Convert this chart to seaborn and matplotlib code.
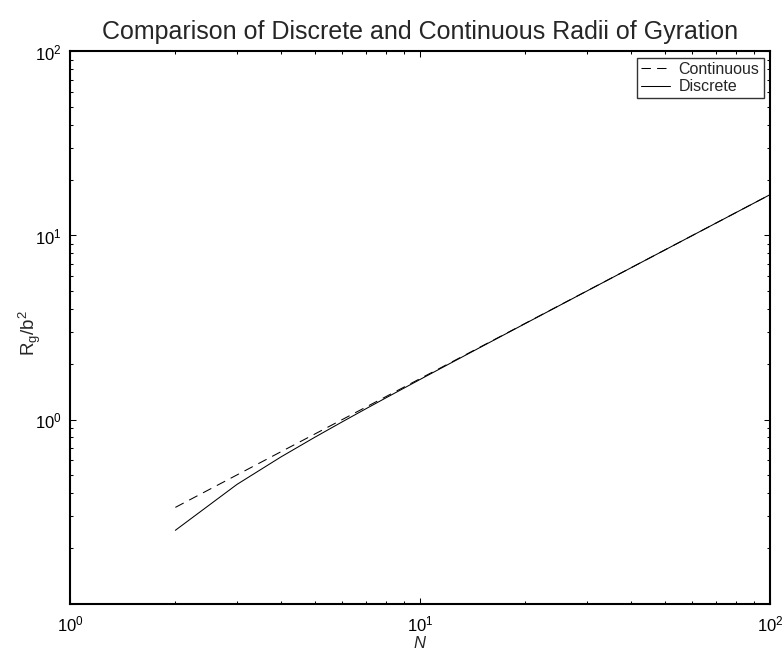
import matplotlib
matplotlib.use("Agg")
import matplotlib.pyplot as plt
import seaborn as sns
import pandas as pd

# chain length N and radius of gyration (in units of b^2)
n_values = [2, 3, 4, 5, 6, 7, 8, 9, 10, 12, 15, 20, 30, 50, 70, 100]
continuous = [0.333, 0.5, 0.667, 0.833, 1.0, 1.167, 1.333, 1.5, 1.667,
              2.0, 2.5, 3.333, 5.0, 8.333, 11.667, 16.667]
discrete = [0.25, 0.444, 0.625, 0.8, 0.972, 1.143, 1.3125, 1.481, 1.65,
            1.986, 2.489, 3.325, 4.994, 8.33, 11.664, 16.665]

df = pd.DataFrame({"N": n_values, "Continuous": continuous, "Discrete": discrete})

sns.set_style("ticks")
plt.rcParams["font.family"] = ["Liberation Sans", "DejaVu Sans"]
plt.rcParams["mathtext.fontset"] = "custom"
plt.rcParams["mathtext.rm"] = "Liberation Sans"
plt.rcParams["mathtext.it"] = "Liberation Sans:italic"

fig = plt.figure(figsize=(7.83, 6.5), dpi=100)
ax = fig.add_axes([0.0894, 0.0715, 0.8940, 0.8493])

sns.lineplot(data=df, x="N", y="Continuous", ax=ax, color="black", lw=0.75,
             linestyle=(0, (9, 6)), label="Continuous")
sns.lineplot(data=df, x="N", y="Discrete", ax=ax, color="black", lw=0.75,
             label="Discrete")

ax.set_xscale("log")
ax.set_yscale("log")
ax.set_xlim(1, 100)
ax.set_ylim(0.1, 100)
ax.set_xticks([1, 10, 100])
ax.set_yticks([0.1, 1, 10, 100])
ax.set_yticklabels(["", r"$\mathdefault{10^{0}}$", r"$\mathdefault{10^{1}}$",
                    r"$\mathdefault{10^{2}}$"])

for s in ax.spines.values():
    s.set_linewidth(1.5)
    s.set_color("black")
ax.tick_params(which="both", direction="in", top=True, right=True,
               labelsize=12, colors="black", width=0.75)
ax.tick_params(which="major", length=4.5)
ax.tick_params(axis="y", which="major", pad=6)
ax.tick_params(axis="x", which="major", pad=8)
ax.tick_params(which="minor", length=2.3)

ax.set_xlabel("$\\mathit{N}$", fontsize=12, labelpad=0)
ax.set_ylabel(r"R$_\mathregular{g}$/b$^\mathregular{2}$", fontsize=13.5)
ax.yaxis.set_label_coords(-0.0385, 0.49)
ax.set_title("Comparison of Discrete and Continuous Radii of Gyration",
             fontsize=18, pad=9)

leg = ax.legend(loc="upper right", fontsize=11.5, frameon=True, fancybox=False,
                edgecolor="black", borderpad=0.25, handlelength=1.8,
                handletextpad=0.55, labelspacing=0.15, borderaxespad=0.4)
leg.get_frame().set_linewidth(1.0)

fig.savefig("out.png", dpi=100)
